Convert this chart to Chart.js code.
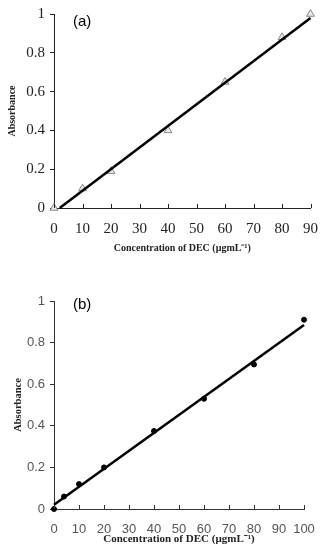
<!DOCTYPE html>
<html>
<head>
<meta charset="utf-8">
<script src="https://cdn.jsdelivr.net/npm/chart.js@4"></script>
<style>
  body { margin: 0; background: #fff; }
  .wrap { position: absolute; left: 0; width: 330px; }
  canvas { display: block; }
</style>
</head>
<body>
<div class="wrap" style="top:0;height:275px"><canvas id="chartA" width="330" height="275"></canvas></div>
<div class="wrap" style="top:275px;height:276px"><canvas id="chartB" width="330" height="276"></canvas></div>
<script>
// Panel (a): DEC calibration, triangles
const concA = [0, 10, 20, 40, 60, 80, 90];
const absA = [0, 0.1, 0.19, 0.4, 0.65, 0.88, 1.0];
const fitXA = [2, 90];
const fitYA = [0, 0.98];

// Panel (b): DEC calibration, dots
const concB = [0, 4, 10, 20, 40, 60, 80, 100];
const absB = [0, 0.06, 0.12, 0.2, 0.375, 0.53, 0.695, 0.91];
const fitXB = [0, 100];
const fitYB = [0.02, 0.885];

const yTicks = [0, 0.2, 0.4, 0.6, 0.8, 1];
const axisTitleX = 'Concentration of DEC (\u00B5gmL\u207B\u00B9)';
const axisTitleY = 'Absorbance';

function toPoints(xs, ys) {
    return xs.map((x, i) => ({ x: x, y: ys[i] }));
}

// Draws the inward x tick marks and the panel letter
const extras = {
    id: 'extras',
    afterDraw(chart, args, opts) {
        const { ctx, chartArea, scales } = chart;
        const x = scales.x;
        ctx.save();
        ctx.strokeStyle = opts.tickColor;
        ctx.lineWidth = 1;
        x.ticks.forEach((t, i) => {
            const px = Math.round(x.getPixelForTick(i)) + 0.5;
            ctx.beginPath();
            ctx.moveTo(px, chartArea.bottom);
            ctx.lineTo(px, chartArea.bottom - 4);
            ctx.stroke();
        });
        ctx.font = '15px "Liberation Sans", Arial, sans-serif';
        ctx.fillStyle = '#000';
        ctx.textBaseline = 'middle';
        ctx.fillText(opts.label, chartArea.left + opts.dx, chartArea.top + opts.dy);
        ctx.restore();
    }
};

function makeChart(id, cfg) {
    return new Chart(document.getElementById(id), {
        type: 'scatter',
        data: {
            datasets: [{
                data: toPoints(cfg.fitX, cfg.fitY),
                showLine: true,
                borderColor: '#000',
                borderWidth: 2.5,
                pointRadius: 0,
                clip: false
            }, {
                data: toPoints(cfg.xs, cfg.ys),
                pointStyle: cfg.pointStyle,
                pointRadius: cfg.pointRadius,
                pointBorderColor: cfg.pointBorder,
                pointBackgroundColor: cfg.pointFill,
                pointBorderWidth: 1,
                clip: false
            }]
        },
        options: {
            responsive: false,
            animation: false,
            layout: { padding: { left: 0, right: cfg.padRight, top: cfg.padTop, bottom: cfg.padBottom } },
            plugins: {
                legend: { display: false },
                tooltip: { enabled: false },
                extras: { label: cfg.label, dx: 19, dy: cfg.labelDy, tickColor: cfg.axisColor }
            },
            scales: {
                x: {
                    type: 'linear',
                    min: 0,
                    max: cfg.xMax,
                    afterBuildTicks: s => { s.ticks = cfg.xTicks.map(v => ({ value: v })); },
                    afterFit: s => { s.height = cfg.xHeight; },
                    grid: { drawOnChartArea: false, drawTicks: false },
                    border: { color: cfg.axisColor, width: 1 },
                    ticks: { padding: cfg.xTickPad, color: cfg.tickColor, font: cfg.tickFont, maxRotation: 0 },
                    title: { display: true, text: axisTitleX, color: '#222', font: cfg.titleFont, padding: 0 }
                },
                y: {
                    min: 0,
                    max: 1,
                    afterBuildTicks: s => { s.ticks = yTicks.map(v => ({ value: v })); },
                    afterFit: s => { s.width = 54; },
                    grid: { drawOnChartArea: false, drawTicks: true, tickLength: 4, color: cfg.axisColor },
                    border: { color: cfg.axisColor, width: 1 },
                    ticks: { padding: 5, color: cfg.tickColor, font: cfg.tickFont, callback: v => String(v) },
                    title: { display: true, text: axisTitleY, color: '#222', font: cfg.yTitleFont, padding: { top: cfg.yTitlePad, bottom: 0 } }
                }
            }
        },
        plugins: [extras]
    });
}

makeChart('chartA', {
    xs: concA, ys: absA, fitX: fitXA, fitY: fitYA,
    xMax: 90, xTicks: [0, 10, 20, 30, 40, 50, 60, 70, 80, 90],
    pointStyle: 'triangle', pointRadius: 4.5, pointBorder: '#888', pointFill: '#e8e8e8',
    padRight: 10, padTop: 10, padBottom: 21, xHeight: 46, xTickPad: 12,
    tickColor: '#222', axisColor: '#222',
    tickFont: { family: '"Liberation Serif", "Times New Roman", serif', size: 15 },
    titleFont: { family: '"Liberation Serif", "Times New Roman", serif', size: 10, weight: 'bold' },
    yTitleFont: { family: '"Liberation Serif", "Times New Roman", serif', size: 10, weight: 'bold' },
    yTitlePad: 6,
    label: '(a)', labelDy: 8
});

makeChart('chartB', {
    xs: concB, ys: absB, fitX: fitXB, fitY: fitYB,
    xMax: 100, xTicks: [0, 10, 20, 30, 40, 50, 60, 70, 80, 90, 100],
    pointStyle: 'circle', pointRadius: 2.5, pointBorder: '#000', pointFill: '#000',
    padRight: 26, padTop: 26, padBottom: 5, xHeight: 37, xTickPad: 13,
    tickColor: '#555', axisColor: '#333',
    tickFont: { family: '"Liberation Sans", Arial, sans-serif', size: 13 },
    titleFont: { family: '"Liberation Serif", "Times New Roman", serif', size: 11, weight: 'bold' },
    yTitleFont: { family: '"Liberation Serif", "Times New Roman", serif', size: 10.5, weight: 'bold' },
    yTitlePad: 12,
    label: '(b)', labelDy: 4
});
</script>
</body>
</html>
